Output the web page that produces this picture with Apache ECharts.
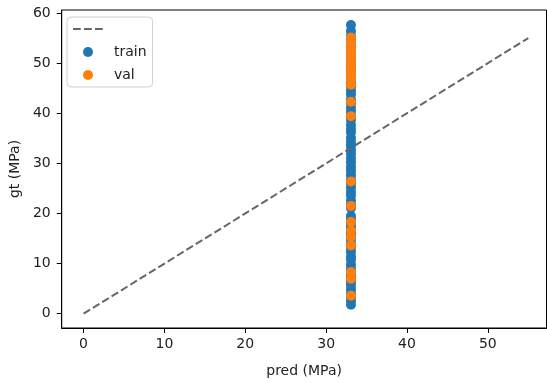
<!DOCTYPE html>
<html>
<head>
<meta charset="utf-8">
<script src="https://cdn.jsdelivr.net/npm/echarts@6/dist/echarts.min.js"></script>
<style>html,body{margin:0;padding:0;background:#fff}#c{width:547px;height:383px}</style>
</head>
<body>
<div id="c"></div>
<script>
// Data
const predConstant = 33.07; // model predicts (almost) the same value for every sample
const trainGt = [1.8, 2.6, 3.2, 4.1, 4.9, 5.8, 6.5, 7.4, 8.1, 9.0, 9.8, 10.8, 11.4, 12.3, 13.1, 13.8, 14.7, 15.5, 16.2, 17.2, 17.9, 18.9, 19.5, 21.1, 21.8, 22.6, 23.6, 24.3, 25.2, 26.0, 26.8, 27.7, 28.6, 29.3, 30.2, 31.0, 31.9, 32.7, 33.6, 34.3, 35.1, 36.2, 36.9, 37.7, 38.7, 39.4, 40.3, 41.1, 42.0, 42.8, 43.8, 44.5, 45.3, 46.2, 47.0, 48.1, 48.8, 49.6, 50.5, 51.3, 52.3, 53.0, 53.9, 54.8, 55.5, 56.4, 57.6];
const valGt = [55.1, 54.2, 53.3, 52.5, 51.6, 50.8, 50.0, 49.1, 48.3, 47.4, 46.6, 45.7, 42.3, 39.4, 26.4, 21.5, 18.3, 16.6, 15.3, 13.6, 8.3, 7.0, 3.6];
const identityLine = [[0, 0], [55, 55]];
const xTicks = [0, 10, 20, 30, 40, 50];
const yTicks = [0, 10, 20, 30, 40, 50, 60];
const xName = 'pred (MPa)';
const yName = 'gt (MPa)';

const font = 'DejaVu Sans';
const chart = echarts.init(document.getElementById('c'), null, {renderer: 'canvas'});
chart.setOption({
  animation: false,
  backgroundColor: '#fff',
  grid: {left: 59.5, right: 0.5, top: 10, bottom: 53.5, show: true, borderColor: '#000', borderWidth: 1, backgroundColor: 'transparent'},
  xAxis: {
    type: 'value', min: -2.7, max: 57.25,
    name: xName, nameLocation: 'middle', nameGap: 36,
    nameTextStyle: {fontFamily: font, fontSize: 14, color: '#222'},
    axisLine: {show: true, onZero: false, lineStyle: {color: '#000', width: 1}},
    axisTick: {show: true, length: 5, customValues: xTicks, lineStyle: {color: '#000'}},
    axisLabel: {customValues: xTicks, margin: 9, fontFamily: font, fontSize: 14, color: '#222'},
    splitLine: {show: false}
  },
  yAxis: {
    type: 'value', min: -2.85, max: 60.6,
    name: yName, nameLocation: 'middle', nameGap: 37,
    nameTextStyle: {fontFamily: font, fontSize: 14, color: '#222'},
    axisLine: {show: true, onZero: false, lineStyle: {color: '#000', width: 1}},
    axisTick: {show: true, length: 5, customValues: yTicks, lineStyle: {color: '#000'}},
    axisLabel: {customValues: yTicks, margin: 11, fontFamily: font, fontSize: 14, color: '#222'},
    splitLine: {show: false}
  },
  legend: {
    orient: 'vertical', left: 67, top: 17,
    data: [{name: ' ', itemStyle: {opacity: 0}}, {name: 'train', icon: 'circle'}, {name: 'val', icon: 'circle'}],
    itemWidth: 30, itemHeight: 10, itemGap: 9,
    padding: [5, 6, 5, 5],
    backgroundColor: 'rgba(255,255,255,0.8)', borderColor: '#d0d0d0', borderWidth: 1, borderRadius: 4,
    textStyle: {fontFamily: font, fontSize: 14, color: '#222', lineHeight: 14, padding: [0, 0, 0, 6]}
  },
  series: [
    {
      name: 'train', type: 'scatter', z: 2,
      data: trainGt.map(v => [predConstant, v]),
      symbolSize: 10, itemStyle: {color: '#1f77b4', opacity: 1}
    },
    {
      name: 'val', type: 'scatter', z: 3,
      data: valGt.map(v => [predConstant, v]),
      symbolSize: 10, itemStyle: {color: '#ff7f0e', opacity: 1}
    },
    {
      name: ' ', type: 'line', z: 5, symbol: 'none',
      data: identityLine,
      lineStyle: {color: '#666', width: 2, type: [7.7, 3.3]},
      itemStyle: {color: '#666'}
    }
  ]
});
</script>
</body>
</html>
